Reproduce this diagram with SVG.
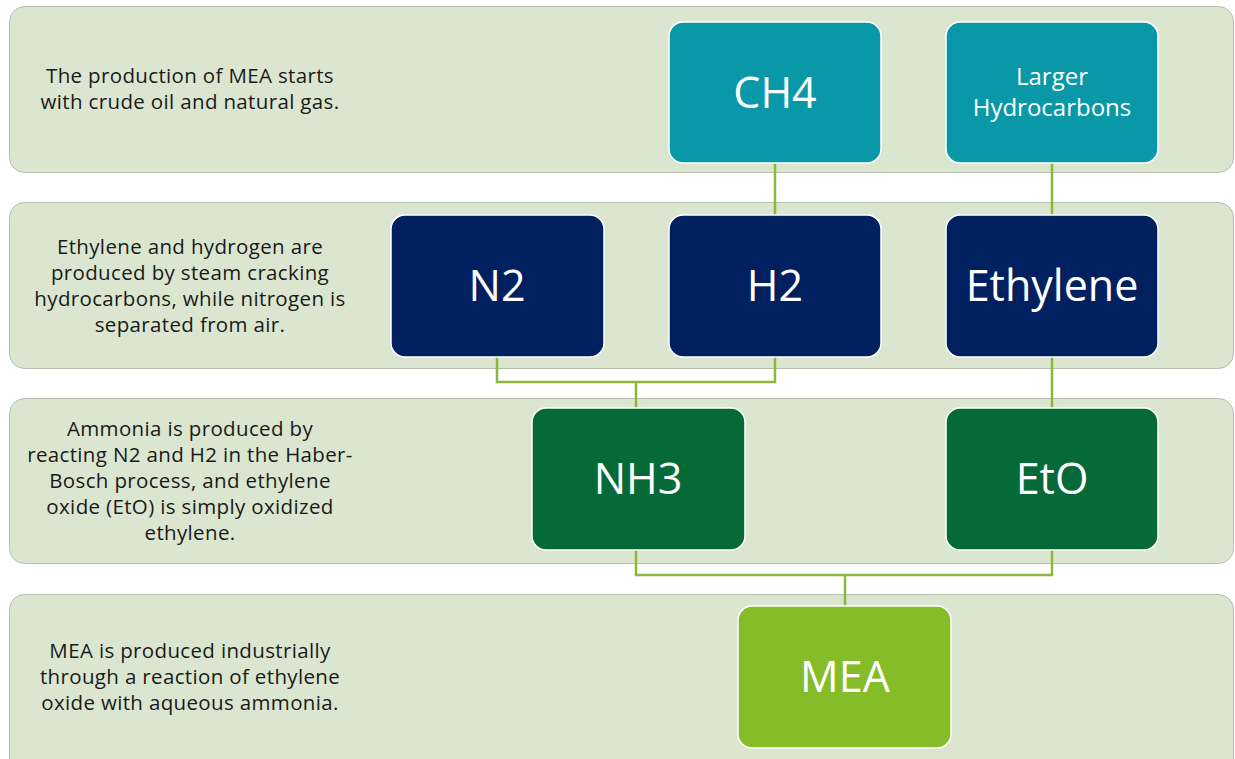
<svg xmlns="http://www.w3.org/2000/svg" width="1235" height="759" viewBox="0 0 1235 759">
<style>
.band{fill:#dae6cf;stroke:#b7beae;stroke-width:1}
.desc{font-family:"Open Sans","Liberation Sans",sans-serif;font-size:20.5px;letter-spacing:0.35px;fill:#1a1a1a;text-anchor:middle}
.node{stroke:#ffffff;stroke-width:1.5}
.lbl{font-family:"Open Sans","Liberation Sans",sans-serif;fill:#ffffff;text-anchor:middle}
.big{font-size:43px}
.small{font-size:24px}
.conn{fill:none;stroke:#8ab83f;stroke-width:2.5}
</style>
<rect width="1235" height="759" fill="#ffffff"/>
<g id="band1"><rect class="band" x="9.5" y="6.5" width="1224" height="166" rx="15"/>
<text class="desc" x="190" y="83">The production of MEA starts</text>
<text class="desc" x="190" y="109">with crude oil and natural gas.</text></g>
<g id="band2"><rect class="band" x="9.5" y="202.5" width="1224" height="166" rx="15"/>
<text class="desc" x="190" y="254">Ethylene and hydrogen are</text>
<text class="desc" x="190" y="280">produced by steam cracking</text>
<text class="desc" x="190" y="306">hydrocarbons, while nitrogen is</text>
<text class="desc" x="190" y="332">separated from air.</text></g>
<g id="band3"><rect class="band" x="9.5" y="398.5" width="1224" height="165" rx="15"/>
<text class="desc" x="190" y="436">Ammonia is produced by</text>
<text class="desc" x="190" y="462">reacting N2 and H2 in the Haber-</text>
<text class="desc" x="190" y="488">Bosch process, and ethylene</text>
<text class="desc" x="190" y="514">oxide (EtO) is simply oxidized</text>
<text class="desc" x="190" y="540">ethylene.</text></g>
<g id="band4"><rect class="band" x="9.5" y="594.5" width="1224" height="190" rx="15"/>
<text class="desc" x="190" y="658">MEA is produced industrially</text>
<text class="desc" x="190" y="684">through a reaction of ethylene</text>
<text class="desc" x="190" y="710">oxide with aqueous ammonia.</text></g>
<g id="connectors">
<path class="conn" d="M775 163 V215"/>
<path class="conn" d="M1052 163 V215"/>
<path class="conn" d="M497 357 V382 H775 V357 M636 382 V408"/>
<path class="conn" d="M1052 357 V408"/>
<path class="conn" d="M636 550 V575 H1052 V550 M845 575 V606"/>
</g>
<g id="CH4"><rect class="node" x="669" y="22" width="212" height="141" rx="14" fill="#0898a8"/><text class="lbl big" x="775" y="108">CH4</text></g>
<g id="LargerHydrocarbons"><rect class="node" x="946" y="22" width="212" height="141" rx="14" fill="#0898a8"/><text class="lbl small" x="1052" y="85">Larger</text><text class="lbl small" x="1052" y="116">Hydrocarbons</text></g>
<g id="N2"><rect class="node" x="391" y="215" width="213" height="142" rx="14" fill="#002060"/><text class="lbl big" x="497" y="301">N2</text></g>
<g id="H2"><rect class="node" x="669" y="215" width="212" height="142" rx="14" fill="#002060"/><text class="lbl big" x="775" y="301">H2</text></g>
<g id="Ethylene"><rect class="node" x="946" y="215" width="212" height="142" rx="14" fill="#002060"/><text class="lbl big" x="1052" y="301">Ethylene</text></g>
<g id="NH3"><rect class="node" x="532" y="408" width="213" height="142" rx="14" fill="#056a38"/><text class="lbl big" x="638" y="494">NH3</text></g>
<g id="EtO"><rect class="node" x="946" y="408" width="212" height="142" rx="14" fill="#056a38"/><text class="lbl big" x="1052" y="494">EtO</text></g>
<g id="MEA"><rect class="node" x="738" y="606" width="213" height="142" rx="14" fill="#86bc27"/><text class="lbl big" x="845" y="692">MEA</text></g>
</svg>
